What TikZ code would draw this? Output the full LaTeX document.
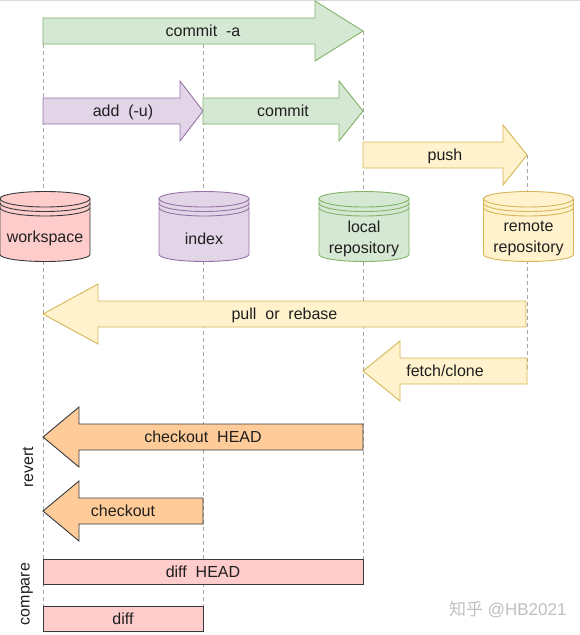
\documentclass[tikz,border=0pt]{standalone}
\usepackage{fontspec}
\setmainfont{Liberation Sans}
\newfontfamily\cjkfont{Noto Sans CJK SC}
\usepackage{xcolor}
\definecolor{greenfill}{HTML}{D5E8D4}
\definecolor{greenline}{HTML}{82B366}
\definecolor{purplefill}{HTML}{E1D5E7}
\definecolor{purpleline}{HTML}{9673A6}
\definecolor{yellowfill}{HTML}{FFF2CC}
\definecolor{yellowline}{HTML}{D6B656}
\definecolor{orangefill}{HTML}{FFCC99}
\definecolor{redfill}{HTML}{FFCCCC}
\definecolor{darkline}{HTML}{36393D}
\tikzset{
  greenshape/.style={fill=greenfill,draw=greenline},
  purpleshape/.style={fill=purplefill,draw=purpleline},
  yellowshape/.style={fill=yellowfill,draw=yellowline},
  orangeshape/.style={fill=orangefill,draw=darkline},
  redshape/.style={fill=redfill,draw=darkline},
  guide/.style={draw=black!35,dash pattern=on 4pt off 3pt,line width=0.5pt},
  lbl/.style={text=black!88,inner sep=0pt,align=center},
  linelbl/.style={text=black!88,inner sep=0pt,text height=14.5pt,text depth=3.5pt},
}
\begin{document}
\begin{tikzpicture}[x=1pt,y=-1pt,font=\fontsize{16}{20.5}\selectfont,line width=0.9pt]
  \useasboundingbox (0,0) rectangle (580,635);
  \draw[black!15,line width=1pt] (0,0.5) -- (580,0.5);
  % guides
  \coordinate (wsTop) at (43,44);
  \coordinate (wsEnd) at (43,606);
  \coordinate (idxTop) at (203,44);
  \coordinate (idxEnd) at (203,606);
  \coordinate (locTop) at (363,31);
  \coordinate (locEnd) at (363,559);
  \coordinate (remTop) at (527,155);
  \coordinate (remEnd) at (527,371);
  \draw[guide] (wsTop) -- (wsEnd);
  \draw[guide] (idxTop) -- (idxEnd);
  \draw[guide] (locTop) -- (locEnd);
  \draw[guide] (remTop) -- (remEnd);
  % databases
  \foreach \x/\st/\n/\t in {45/redshape/workspace/workspace,204/purpleshape/index/index,364/greenshape/local/{local\\repository},528.5/yellowshape/remote/{remote\\repository}} {
    \draw[\st] (\x-45,198.5) -- (\x-45,254.5) arc[start angle=180,end angle=0,x radius=45,y radius=7]
      -- (\x+45,198.5) arc[start angle=0,end angle=-180,x radius=45,y radius=7] -- cycle;
    \foreach \yy in {198.5,203,207.5}
      \draw[\st,fill=none] (\x-45,\yy) arc[start angle=180,end angle=0,x radius=45,y radius=8.5];
    \node[lbl] (\n) at (\x,238.7) {\t};
  }
  % arrows: tail, tip, head base, middle, style, label place, name, label
  \foreach \xa/\xb/\xh/\yy/\st/\tx/\n/\t in {
    43/363/315/31/greenshape/203/commitAll/{commit\ \ -a},
    43/203/180/111/purpleshape/123/add/{add\ \ (-u)},
    203/363/339/111/greenshape/283/commit/commit,
    363/527/503/155/yellowshape/445/push/push,
    526/43/98/314/yellowshape/284.5/pull/{pull\ \ or\ \ rebase},
    527/363/400/371/yellowshape/445/fetch/{fetch/clone},
    363/43/79/437/orangeshape/203/checkoutHead/{checkout\ \ HEAD},
    203/43/79/511/orangeshape/123/checkout/checkout} {
    \draw[\st] (\xa,\yy-13) -- (\xh,\yy-13) -- (\xh,\yy-30) -- (\xb,\yy) -- (\xh,\yy+30) -- (\xh,\yy+13) -- (\xa,\yy+13) -- cycle;
    \node[linelbl] (\n) at (\tx,\yy) {\t};
  }
  % plain boxes
  \draw[redshape] (43,559) rectangle (363,584);
  \node[linelbl] (diffHead) at (203,571.5) {diff\ \ HEAD};
  \draw[redshape] (43,606) rectangle (203,631);
  \node[linelbl] (diff) at (123,618.5) {diff};
  \node[lbl,rotate=90] (revert) at (28,467) {revert};
  \node[lbl,rotate=90] (compare) at (27,594) {compare};
  \node[text=black!25,anchor=east,inner sep=0pt,font=\fontsize{17}{20}\selectfont] (mark) at (567,610) {{\cjkfont 知乎} @HB2021};
\end{tikzpicture}
\end{document}
